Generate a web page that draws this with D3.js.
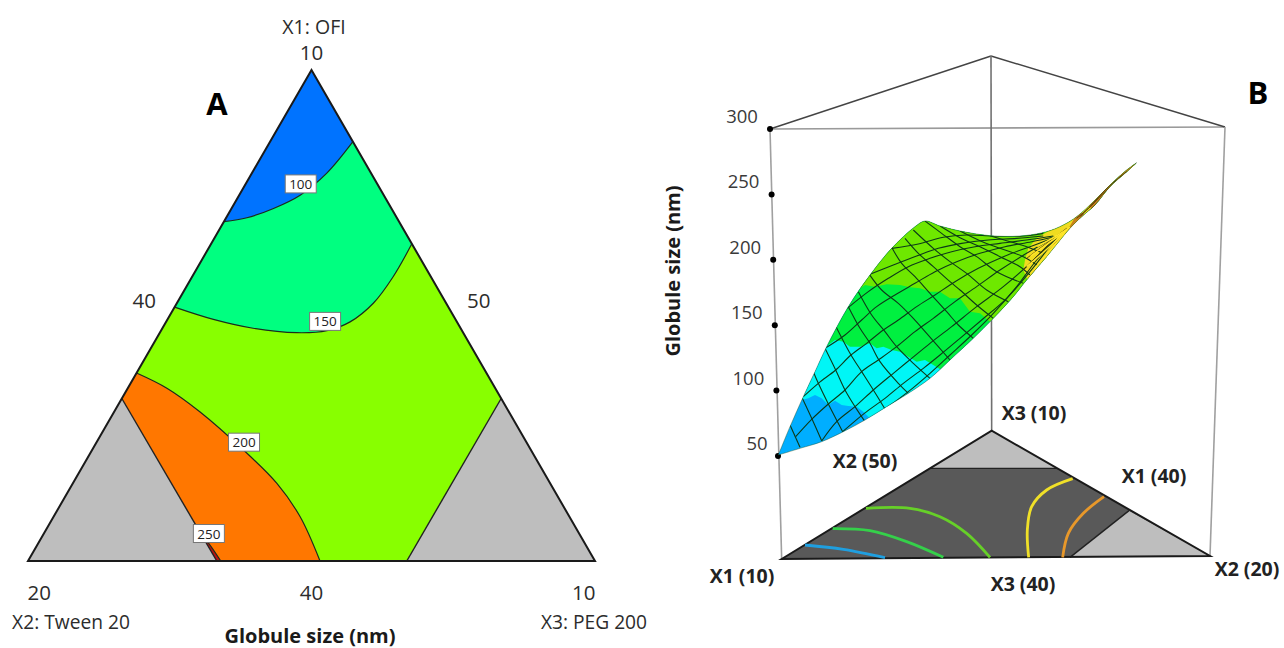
<!DOCTYPE html>
<html><head><meta charset="utf-8">
<script src="https://cdnjs.cloudflare.com/ajax/libs/d3/7.8.5/d3.min.js"></script>
<style>html,body{margin:0;padding:0;background:#fff}svg{display:block}text{font-family:"Open Sans",sans-serif}</style>
</head><body><div id="c"></div>
<script>
// ---------- Panel A : ternary contours, [base position %, height %]
const triangle=[[0,0],[50,100],[100,0]];
const contour100=[[34.55,69.1],[38.6,69.9],[43.3,71.8],[48,74.5],[52.7,79],[57.3,85.4]];
const contour150=[[25.85,51.7],[32.7,49.2],[39.7,47.4],[47.4,46.5],[52.7,46.9],[56.8,48.7],[60.9,52.5],[64.4,57.9],[67.7,64.6]];
const contour200=[[19.15,38.3],[24.5,35.2],[30.3,30.4],[38,22.6],[43.9,15.8],[48,9],[51.5,0]];
const contour250=[[30.7,5.1],[31.8,3.7],[34,0]];
const limitLeft=[[0,0],[16.55,33.1],[33.3,0]];
const limitRight=[[100,0],[83.45,33.1],[66.8,0]];
const contourLabels=[{v:"100",p:[48.1,76.8]},{v:"150",p:[52.4,48.8]},{v:"200",p:[38.1,24.2]},{v:"250",p:[31.9,5.6]}];
const vertexTicks=[{t:"10",p:[50,100]},{t:"40",p:[20.5,53]},{t:"50",p:[79.5,53]}];
const baseTicks=[{t:"20",u:2},{t:"40",u:50},{t:"10",u:98}];
// ---------- Panel B : response surface, traced in view units of the 3-D plot
const surfaceUpper=[[55,915],[90,830],[130,740],[165,665],[200,590],[265,470],[330,375],[395,295],[465,230],[495,213],[540,228],[600,243],[690,257],[780,258],[860,245],[910,225],[950,200],[1000,155],[1050,105],[1100,60],[1130,38]];
const surfaceLower=[[55,915],[120,895],[185,875],[250,845],[315,810],[380,770],[445,730],[510,685],[570,630],[640,565],[700,505],[760,440],[800,390],[860,320],[930,235],[965,200],[1005,165],[1050,110],[1095,70],[1130,38]];
const bandBlue=[[100,765],[125,750],[145,745],[165,735],[185,745],[205,765],[225,752],[245,765],[265,768],[290,770],[310,785],[340,815]];
const bandCyan=[[180,605],[205,585],[225,570],[250,575],[270,590],[300,590],[330,580],[350,595],[370,590],[395,600],[420,605],[445,620],[470,635],[495,630],[520,645],[560,670]];
const bandGreen=[[280,430],[315,405],[345,410],[380,403],[420,405],[450,412],[480,415],[510,425],[540,425],[570,445],[600,445],[630,485],[660,490],[690,515],[720,535]];
const bandYellow=[[880,235],[830,265],[805,295],[795,330],[790,360],[800,385],[815,405]];
const bandAmberA=[[905,270],[955,185],[980,195],[930,260]];
const bandAmberB=[[985,165],[1130,10],[1170,40],[1010,195]];
const meshS=[
 [[90,825],[120,892]],
 [[127,745],[155,805],[185,872]],
 [[160,665],[175,700],[205,762],[248,845]],
 [[195,595],[227,660],[255,720],[285,770],[313,812]],
 [[228,530],[273,615],[305,665],[340,720],[375,777]],
 [[265,470],[300,535],[330,580],[360,635],[415,700],[445,730]],
 [[295,425],[335,495],[375,545],[410,590],[460,640],[510,685]],
 [[328,373],[365,420],[415,460],[460,505],[500,550],[570,630]],
 [[395,292],[425,340],[465,380],[510,430],[560,485],[595,525],[640,565]],
 [[435,265],[475,310],[520,350],[570,395],[600,420],[650,465],[700,505]],
 [[460,240],[520,295],[570,335],[620,370],[680,420],[745,455]],
 [[495,213],[545,250],[600,290],[650,320],[710,365],[790,400]],
 [[540,228],[600,263],[660,290],[720,320],[780,350],[810,375]],
 [[600,243],[660,272],[720,295],[790,320],[830,345]],
 [[690,257],[740,272],[800,290],[850,310]]];
const meshT=[
 [[248,845],[313,790],[375,745],[430,700],[490,655],[540,615],[600,565],[665,510],[740,445],[810,365],[880,275]],
 [[375,777],[445,725],[510,670],[570,615],[635,555],[700,490],[770,410],[830,330],[890,265]],
 [[185,873],[230,815],[285,770],[340,720],[400,670],[455,625],[510,580],[575,530],[650,470],[730,410],[810,340],[880,270]],
 [[107,860],[155,808],[205,762],[255,720],[305,665],[355,630],[410,590],[465,545],[520,505],[585,455],[650,410],[720,360],[800,310],[880,265]],
 [[130,740],[175,700],[227,660],[273,615],[320,580],[370,540],[415,510],[470,470],[525,435],[585,395],[655,355],[730,320],[810,290],[885,262]],
 [[195,595],[255,555],[305,510],[350,470],[405,435],[465,400],[525,365],[590,335],[660,310],[735,290],[815,275],[885,260]],
 [[262,475],[325,425],[385,385],[445,350],[510,325],[575,305],[645,290],[720,280],[800,270],[880,258]],
 [[330,373],[400,345],[470,318],[535,295],[605,280],[685,270],[770,265],[850,258]],
 [[395,295],[475,282],[550,262],[620,255],[700,258],[790,258],[850,250]]];
const meshFan=[
 [[800,395],[850,325],[910,250]],[[790,360],[850,300],[915,240]],[[800,325],[860,280],[920,235]],
 [[950,205],[990,170],[1040,115],[1100,65]],[[945,222],[1000,170],[1050,118],[1115,55]],[[960,200],[1010,150],[1070,90]]];
const fanStreaks=[
 [[807,382],[858,315],[912,252]],[[800,350],[858,300],[918,242]],[[812,318],[868,278],[925,238]],
 [[832,290],[885,260],[930,232]],[[850,330],[900,270],[925,245]],[[825,355],[880,290],[920,248]]];
// ---------- Panel B : floor and frame, view units of the floor plane
const floorOutline=[[65,417],[695,32],[1350,408]];
const floorCutTop=[[510,145],[695,32],[890,145]];
const floorCutRight=[[1107,272],[1350,408],[930,412]];
const floorBlue=[[135,375],[250,388],[375,413]];
const floorGreenA=[[218,326],[330,332],[440,365],[550,412]];
const floorGreenB=[[318,265],[450,265],[540,290],[620,340],[690,412]];
const floorYellow=[[938,176],[860,210],[815,260],[802,330],[806,412]];
const floorOrange=[[1032,230],[970,280],[925,340],[908,412]];
const frameTop=[[30,-873],[693,-1092],[1395,-879]];
const zTicks=[50,100,150,200,250,300];
const floorLabels=[{t:"X2 (50)",p:[315,145]},{t:"X3 (10)",p:[822,0]},{t:"X1 (40)",p:[1182,189]},{t:"X1 (10)",p:[-54,489]},{t:"X3 (40)",p:[789,513]},{t:"X2 (20)",p:[1461,468]}];

const svg=d3.select("#c").append("svg").attr("width",1284).attr("height",648);
const u=d3.scaleLinear().domain([0,100]).range([28,595]);
const t=d3.scaleLinear().domain([0,100]).range([561,70]);
const tern=d3.line().x(d=>u(d[0])).y(d=>t(d[1]));
const ternC=d3.line().x(d=>u(d[0])).y(d=>t(d[1])).curve(d3.curveCatmullRom);
const closed=(l,a)=>l(a)+"Z";
const defs=svg.append("defs");
defs.append("clipPath").attr("id","tri").append("path").attr("d",closed(tern,triangle));
const A=svg.append("g");
const reg=A.append("g").attr("clip-path","url(#tri)");
const fillT=(pts,c)=>reg.append("path").attr("d",closed(tern,pts)).attr("fill",c);
const fillCurve=(curve,rest,c)=>reg.append("path").attr("d",ternC(curve)+tern(rest).replace(/^M/,"L")+"Z").attr("fill",c);
fillT(triangle,"#88ff00");
fillCurve(contour150,[[50,100]],"#00ff80");
fillCurve(contour100,[[50,100]],"#0073ff");
fillCurve(contour200,[[0,0],[0,50]],"#ff7700");
fillT([...contour250,[0,0]],"#c01010");
fillT(limitLeft,"#bebebe");
fillT(limitRight,"#bebebe");
[contour100,contour150,contour200,contour250].forEach(c=>reg.append("path").attr("d",ternC(c)).attr("fill","none").attr("stroke","#1c2c1c").attr("stroke-width",1.2));
[limitLeft.slice(1),limitRight.slice(1)].forEach(c=>reg.append("path").attr("d",tern(c)).attr("fill","none").attr("stroke","#222").attr("stroke-width",1.4));
A.append("path").attr("d",closed(tern,triangle)).attr("fill","none").attr("stroke","#1a1a1a").attr("stroke-width",2);
contourLabels.forEach(l=>{
  const g=A.append("g").attr("transform",`translate(${u(l.p[0])},${t(l.p[1])})`);
  g.append("rect").attr("x",-15.5).attr("y",-9).attr("width",31).attr("height",18).attr("fill","#fff").attr("stroke","#777").attr("stroke-width",1);
  g.append("text").attr("text-anchor","middle").attr("y",5).attr("font-size",13.5).attr("fill","#222").text(l.v);
});
const txt=(g,x,y,s,size,opt={})=>g.append("text").attr("x",x).attr("y",y).attr("text-anchor",opt.a||"middle").attr("font-size",size).attr("font-weight",opt.w||400).attr("fill",opt.c||"#2c2c2c").attr("font-family",opt.f||null).text(s);
vertexTicks.forEach(d=>txt(A,u(d.p[0]),t(d.p[1])-(d.t==="10"?10:0)+(d.t==="10"?0:7),d.t,20.5));
baseTicks.forEach(d=>txt(A,u(d.u),600,d.t,20.5));
txt(A,314,34,"X1: OFI",19.5);
txt(A,71,629,"X2: Tween 20",19.2);
txt(A,594,629,"X3: PEG 200",19.2);
txt(A,310,643,"Globule size (nm)",20,{w:700,c:"#1a1a1a"});
txt(A,217,115,"A",31,{w:700,c:"#000",f:"Liberation Sans"});
// Panel B
const B=svg.append("g");
txt(B,1258,104,"B",31,{w:700,c:"#000",f:"Liberation Sans"});
const fx=d3.scaleLinear().domain([0,1380]).range([760,1220]);
const fy=d3.scaleLinear().domain([0,480]).range([420,580]);
const fl=d3.line().x(d=>fx(d[0])).y(d=>fy(d[1]));
const seg=(a,b,c,w)=>B.append("path").attr("d",fl([a,b])).attr("stroke",c).attr("stroke-width",w).attr("fill","none");
seg(frameTop[0],frameTop[2],"#9a9a9a",1.6);
seg(frameTop[0],frameTop[1],"#444",1.4);
seg(frameTop[1],frameTop[2],"#444",1.4);
seg(frameTop[0],floorOutline[0],"#a0a0a0",1.6);
seg(frameTop[1],floorOutline[1],"#707070",1.6);
seg(frameTop[2],floorOutline[2],"#a0a0a0",1.6);
B.append("path").attr("d",closed(fl,floorOutline)).attr("fill","#595959");
B.append("path").attr("d",closed(fl,floorCutTop)).attr("fill","#bebebe");
B.append("path").attr("d",closed(fl,floorCutRight)).attr("fill","#bebebe");
seg(floorCutTop[0],floorCutTop[2],"#222",1.4);
seg(floorCutRight[0],floorCutRight[2],"#222",1.4);
B.append("path").attr("d",closed(fl,floorOutline)).attr("fill","none").attr("stroke","#1a1a1a").attr("stroke-width",2);
[[floorBlue,"#1f9fe0"],[floorGreenA,"#35d04a"],[floorGreenB,"#66d028"],[floorYellow,"#f0e028"],[floorOrange,"#e8982a"]].forEach(([c,col])=>
  B.append("path").attr("d",d3.line().x(d=>fx(d[0])).y(d=>fy(d[1])).curve(d3.curveCatmullRom)(c)).attr("fill","none").attr("stroke",col).attr("stroke-width",2.8));
// z axis
const zy=d3.scaleLinear().domain([50,300]).range([456,129]);
const zx=d3.scaleLinear().domain([50,300]).range([778,770]);
zTicks.forEach(v=>{
  B.append("circle").attr("cx",zx(v)).attr("cy",zy(v)).attr("r",3).attr("fill","#000");
  txt(B,zx(v)-(v===50?21:28),zy(v)-6,v,18.5,{c:"#3a3a3a"});
});
B.append("text").attr("transform","translate(680,271) rotate(-90)").attr("text-anchor","middle").attr("font-size",20).attr("font-weight",700).attr("fill","#1a1a1a").text("Globule size (nm)");
floorLabels.forEach(d=>txt(B,fx(d.p[0]),fy(d.p[1]),d.t,19.5,{w:700,c:"#222"}));
// surface
const sx=d3.scaleLinear().domain([0,1200]).range([760,1160]);
const sy=d3.scaleLinear().domain([0,960]).range([150,470]);
const sl=d3.line().x(d=>sx(d[0])).y(d=>sy(d[1]));
const sc=d3.line().x(d=>sx(d[0])).y(d=>sy(d[1])).curve(d3.curveCatmullRom);
defs.append("clipPath").attr("id","surf").append("path").attr("d",sc(surfaceUpper)+sc(surfaceLower.slice().reverse()).replace(/^M/,"L")+"Z");
const S=B.append("g").attr("clip-path","url(#surf)");
const above=(b,c)=>S.append("path").attr("d",closed(sl,[...b,[1200,960],[1200,0],[0,0]])).attr("fill",c);
S.append("rect").attr("x",sx(0)).attr("y",sy(0)).attr("width",400).attr("height",320).attr("fill","#00aeff");
above(bandBlue,"#00f6f6");
above(bandCyan,"#00f040");
above(bandGreen,"#6ee800");
S.append("path").attr("d",closed(sl,[...bandYellow,[1200,960],[1200,0],[880,0]])).attr("fill","#f0dc20");
S.append("path").attr("d",closed(sl,bandAmberA)).attr("fill","#c8801a");
S.append("path").attr("d",closed(sl,bandAmberB)).attr("fill","#c8801a");
meshS.concat(meshT).forEach(m=>S.append("path").attr("d",sc(m)).attr("fill","none").attr("stroke","#0c3a18").attr("stroke-width",1.1));
meshFan.forEach(m=>S.append("path").attr("d",sc(m)).attr("fill","none").attr("stroke","#4a3208").attr("stroke-width",.9));
fanStreaks.forEach(m=>S.append("path").attr("d",sc(m)).attr("fill","none").attr("stroke","#ffe62a").attr("stroke-width",1.5));
[surfaceUpper,surfaceLower].forEach(m=>B.append("path").attr("d",sc(m)).attr("fill","none").attr("stroke","#1e4a1e").attr("stroke-width",.6).attr("opacity",.7));
</script></body></html>
